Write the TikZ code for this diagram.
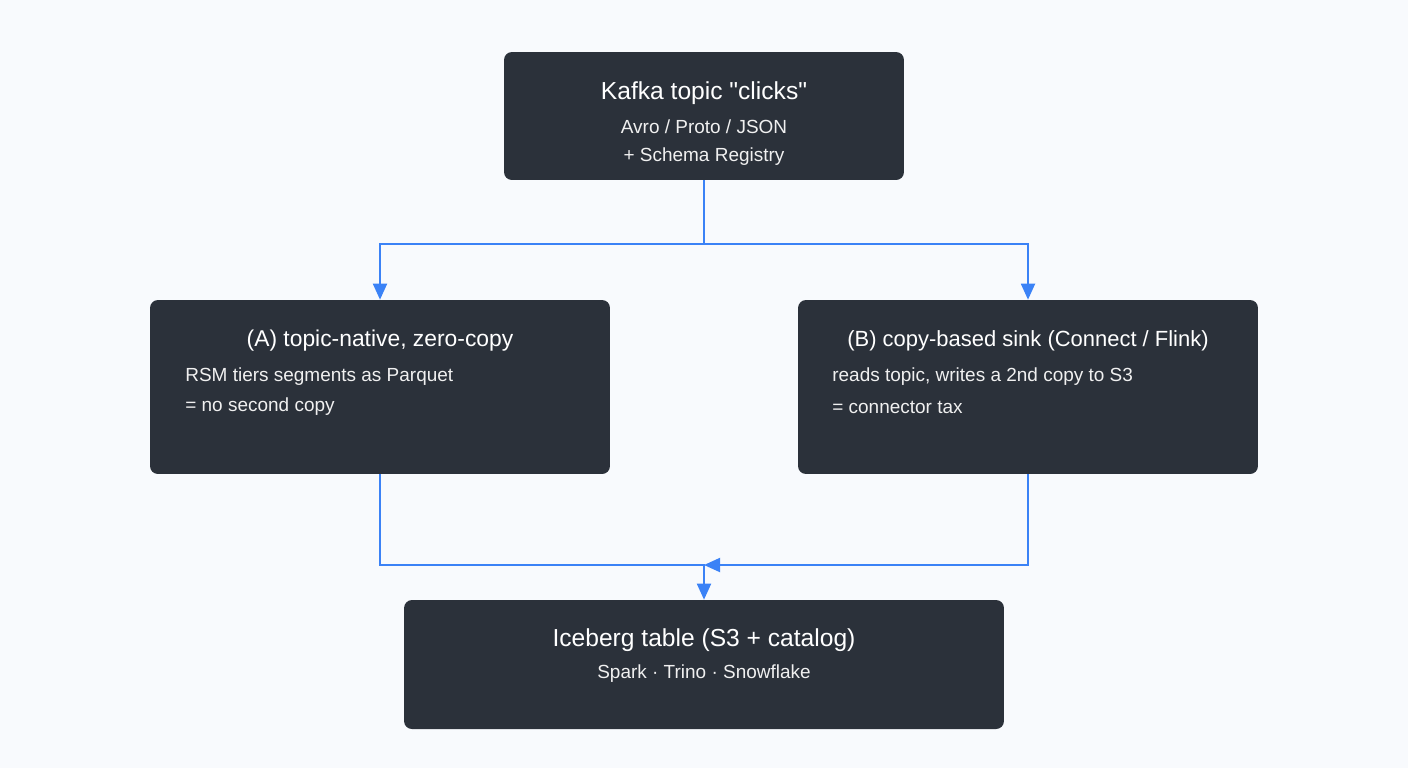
\documentclass[tikz,border=0pt]{standalone}
\usepackage{fontspec}
\setmainfont{Liberation Sans}[Ligatures=TeXOff]
\usetikzlibrary{arrows.meta,positioning}
\definecolor{pagebg}{RGB}{248,250,253}
\definecolor{boxfill}{RGB}{43,49,58}
\definecolor{flow}{RGB}{59,130,246}

\begin{document}
\begin{tikzpicture}[x=0.02cm, y=-0.02cm,
    box/.style={rectangle, rounded corners=4.5pt, fill=boxfill, draw=none,
                inner sep=0pt},
    head/.style={font=\fontsize{#1}{15}\selectfont, color=white, inner sep=0pt},
    head/.default=12.5,
    body/.style={font=\fontsize{10.8}{13}\selectfont, color=white!94!black, inner sep=0pt},
    wire/.style={draw=flow, line width=1.1pt},
    tip/.style={-{Triangle[length=3.2mm, width=2.8mm]}}]
  \fill[pagebg] (0,0) rectangle (1408,768);
  \useasboundingbox (0,0) rectangle (1408,768);
  % boxes
  \node[box, minimum width=8cm, minimum height=2.56cm] (kafka) at (704,116) {};
  \node[box, minimum width=9.2cm, minimum height=3.48cm] (natv) at (380,387) {};
  \node[box, minimum width=9.2cm, minimum height=3.48cm] (sink) at (1028,387) {};
  \node[box, minimum width=12cm, minimum height=2.58cm] (lake) at (704,664.5) {};
  % texts
  \node[head=14] (kafkaT) at (704,93) {Kafka topic "clicks"};
  \node[body] (kafkaA) at (704,127) {Avro / Proto / JSON};
  \node[body] (kafkaB) at (704,157) {+ Schema Registry};
  \node[head=13] (natvT) at (380,341) {(A) topic-native, zero-copy};
  \node[body, anchor=west] (natvA) at (185,377) {RSM tiers segments as Parquet};
  \node[body, anchor=west] (natvB) at (185,407) {= no second copy};
  \node[head] (sinkT) at (1028,341) {(B) copy-based sink (Connect / Flink)};
  \node[body, anchor=west] (sinkA) at (832,377) {reads topic, writes a 2nd copy to S3};
  \node[body, anchor=west] (sinkB) at (832,407) {= connector tax};
  \node[head=14] (lakeT) at (704,640) {Iceberg table (S3 + catalog)};
  \node[body] (lakeA) at (704,674) {Spark · Trino · Snowflake};
  % connectors
  \coordinate (split) at (704,244);
  \coordinate (merge) at (704,565);
  \draw[wire, tip] (kafka.south) -- (split) -| (natv.north);
  \draw[wire, tip] (split) -| (sink.north);
  \draw[wire, tip] (natv.south) |- (merge) -- (lake.north);
  \draw[wire, tip] (sink.south) |- (merge);
\end{tikzpicture}
\end{document}
